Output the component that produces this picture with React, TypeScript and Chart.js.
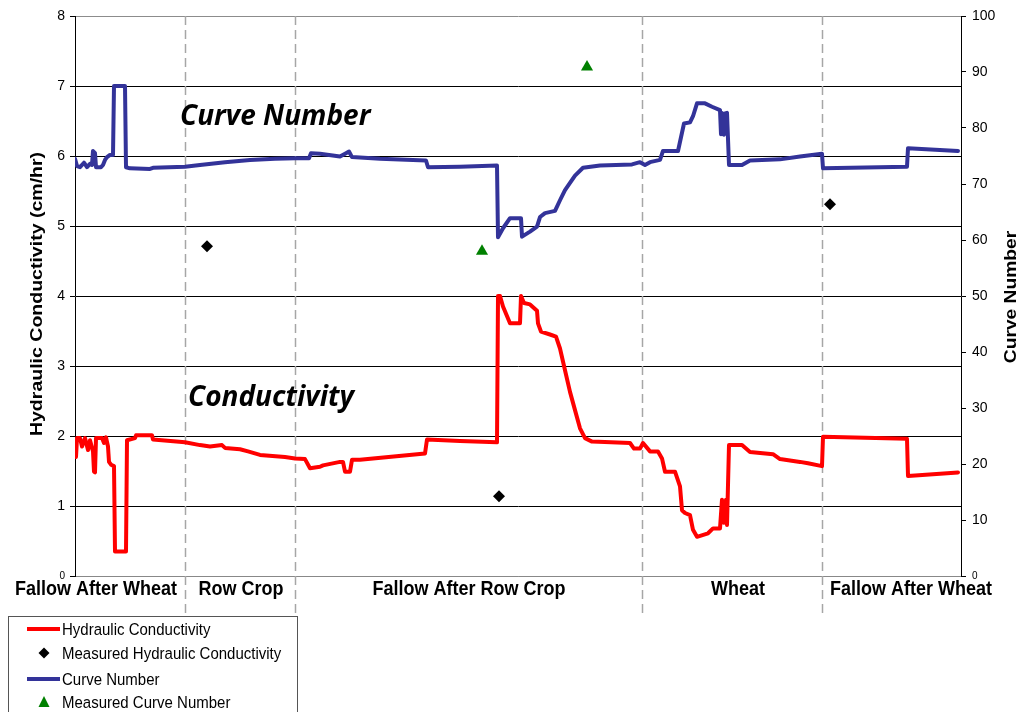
import { useEffect, useRef } from 'react';
import { Chart, registerables } from 'chart.js';

Chart.register(...registerables);

// ---- Data (x = time step index along the crop sequence) ----
const periodLabels = ['Fallow After Wheat', 'Row Crop', 'Fallow After Row Crop', 'Wheat', 'Fallow After Wheat'];
const periodBoundaries = [110, 220, 567, 747];

const cnTime = [0, 2, 5, 9, 12, 15, 17, 18, 20, 21, 26, 28, 30, 32, 35, 38, 39, 50, 51, 55, 75, 78, 110, 125, 150, 175, 200, 220, 234, 236, 245, 265, 271, 274, 277, 305, 351, 353, 385, 422, 423, 428, 435, 446, 447, 455, 462, 465, 470, 480, 485, 490, 500, 508, 525, 557, 565, 570, 575, 585, 588, 603, 609, 615, 618, 622, 630, 637, 645, 646, 647, 649, 650, 652, 654, 667, 675, 705, 725, 747, 748, 832, 833, 883];
const cnValues = [74.5, 73.2, 73.0, 73.8, 73.0, 73.6, 73.4, 75.9, 75.5, 73.0, 73.0, 73.4, 74.3, 74.8, 75.2, 75.2, 87.5, 87.5, 73.0, 72.8, 72.7, 72.9, 73.1, 73.4, 73.9, 74.3, 74.5, 74.6, 74.6, 75.5, 75.4, 74.9, 75.5, 75.8, 74.8, 74.5, 74.2, 73.0, 73.1, 73.3, 60.5, 62.1, 63.9, 63.9, 60.6, 61.5, 62.4, 64.1, 64.8, 65.2, 67.1, 68.9, 71.5, 72.9, 73.3, 73.5, 73.9, 73.4, 73.9, 74.3, 75.9, 75.9, 80.8, 81.0, 82.1, 84.4, 84.4, 83.8, 83.2, 78.9, 82.7, 78.8, 82.6, 82.7, 73.4, 73.4, 74.2, 74.4, 74.9, 75.4, 72.8, 73.1, 76.4, 75.9];

const kTime = [0, 1, 2, 5, 7, 10, 13, 15, 18, 19, 20, 21, 27, 29, 31, 33, 34, 36, 39, 40, 51, 52, 60, 61, 77, 78, 110, 125, 135, 147, 150, 165, 173, 185, 210, 220, 230, 235, 245, 248, 265, 268, 270, 275, 277, 285, 350, 352, 385, 422, 423, 425, 428, 435, 445, 446, 449, 455, 462, 463, 466, 475, 481, 485, 490, 495, 500, 505, 510, 517, 555, 559, 565, 568, 575, 583, 587, 590, 600, 605, 607, 610, 615, 618, 622, 633, 638, 645, 647, 649, 651, 652, 654, 667, 675, 698, 705, 725, 733, 747, 748, 832, 833, 883];
const kValues = [1.77, 1.70, 1.97, 1.97, 1.85, 1.97, 1.80, 1.94, 1.78, 1.49, 1.48, 1.97, 1.97, 1.90, 1.98, 1.85, 1.63, 1.59, 1.57, 0.35, 0.35, 1.94, 1.97, 2.01, 2.01, 1.95, 1.91, 1.87, 1.85, 1.87, 1.83, 1.81, 1.78, 1.73, 1.70, 1.68, 1.67, 1.54, 1.56, 1.58, 1.63, 1.63, 1.49, 1.49, 1.66, 1.66, 1.75, 1.95, 1.93, 1.91, 4.00, 4.00, 3.85, 3.61, 3.61, 4.00, 3.90, 3.88, 3.79, 3.61, 3.49, 3.45, 3.42, 3.25, 2.94, 2.63, 2.37, 2.11, 1.97, 1.92, 1.90, 1.82, 1.82, 1.90, 1.78, 1.78, 1.68, 1.49, 1.49, 1.28, 0.94, 0.90, 0.87, 0.66, 0.56, 0.61, 0.68, 0.68, 1.09, 0.76, 1.09, 0.73, 1.87, 1.87, 1.77, 1.74, 1.67, 1.63, 1.61, 1.57, 1.99, 1.96, 1.43, 1.48];

const measuredKTime = [132, 424, 755];
const measuredKValues = [4.71, 1.14, 5.31];
const measuredCNTime = [407, 512];
const measuredCNValues = [58.0, 90.9];

const leftTicks = { min: 0, max: 8, step: 1 };
const rightTicks = { min: 0, max: 100, step: 10 };

const FONT = '"Liberation Sans", Arial, sans-serif';
const RED = '#FF0000';
const BLUE = '#333399';
const GREEN = '#008000';

const toXY = (xs: number[], ys: number[]) => xs.map((x, i) => ({ x, y: ys[i] }));

// draw text stretched along the vertical of the page (the reference is slightly stretched vertically)
function stretchedText(ctx: CanvasRenderingContext2D, text: string, x: number, y: number, font: string, align: CanvasTextAlign, stretch: number, rotate = false) {
  ctx.save();
  ctx.translate(x, y);
  if (rotate) {
    ctx.rotate(-Math.PI / 2);
    ctx.scale(stretch, 1);
  } else {
    ctx.scale(1, stretch);
  }
  ctx.font = font;
  ctx.textAlign = align;
  ctx.textBaseline = 'middle';
  ctx.fillText(text, 0, 0);
  ctx.restore();
}

const overlayPlugin = {
  id: 'overlay',
  beforeDatasetsDraw(chart: any) {
    const { ctx, scales } = chart;
    const xs = scales.x;
    const top = chart.chartArea.top;
    ctx.save();
    ctx.strokeStyle = '#a6a6a6';
    ctx.lineWidth = 1.5;
    ctx.setLineDash([9, 5]);
    periodBoundaries.forEach((b) => {
      const px = Math.round(xs.getPixelForValue(b)) + 0.5;
      ctx.beginPath();
      ctx.moveTo(px, top);
      ctx.lineTo(px, 613);
      ctx.stroke();
    });
    ctx.restore();
  },
  afterDraw(chart: any) {
    const { ctx } = chart;
    ctx.save();
    ctx.fillStyle = '#000';
    // period labels
    const labelCenters = [96, 241, 469, 738, 911];
    periodLabels.forEach((l, i) => stretchedText(ctx, l, labelCenters[i], 589, `bold 18px ${FONT}`, 'center', 1.15));

    // axis titles
    stretchedText(ctx, 'Hydraulic Conductivity (cm/hr)', 38, 294, `bold 16px ${FONT}`, 'center', 1.22, true);
    stretchedText(ctx, 'Curve Number', 1012, 297, `bold 16px ${FONT}`, 'center', 1.2, true);

    // in-plot annotations
    stretchedText(ctx, 'Curve Number', 180, 117, `italic bold 28px "Open Sans", ${FONT}`, 'left', 1.05);
    stretchedText(ctx, 'Conductivity', 188, 398, `italic bold 28px "Open Sans", ${FONT}`, 'left', 1.05);

    // legend
    ctx.strokeStyle = '#555';
    ctx.lineWidth = 1;
    ctx.strokeRect(8.5, 616.5, 289, 110);
    const rows = [629, 653, 679, 702];
    const names = ['Hydraulic Conductivity', 'Measured Hydraulic Conductivity', 'Curve Number', 'Measured Curve Number'];
    ctx.lineWidth = 4;
    ctx.strokeStyle = RED;
    ctx.beginPath(); ctx.moveTo(27, rows[0]); ctx.lineTo(60, rows[0]); ctx.stroke();
    ctx.strokeStyle = BLUE;
    ctx.beginPath(); ctx.moveTo(27, rows[2]); ctx.lineTo(60, rows[2]); ctx.stroke();
    ctx.fillStyle = '#000';
    ctx.beginPath();
    ctx.moveTo(44, rows[1] - 5.5); ctx.lineTo(49.5, rows[1]); ctx.lineTo(44, rows[1] + 5.5); ctx.lineTo(38.5, rows[1]);
    ctx.closePath(); ctx.fill();
    ctx.fillStyle = GREEN;
    ctx.beginPath();
    ctx.moveTo(44, rows[3] - 6); ctx.lineTo(49.5, rows[3] + 5); ctx.lineTo(38.5, rows[3] + 5);
    ctx.closePath(); ctx.fill();
    ctx.fillStyle = '#000';
    names.forEach((n, i) => stretchedText(ctx, n, 62, rows[i] + 1, `15px ${FONT}`, 'left', 1.1));
    ctx.restore();
  },
};

export default function App() {
  const ref = useRef<HTMLCanvasElement | null>(null);
  useEffect(() => {
    document.body.style.margin = '0';
    if (!ref.current) return;
    const chart = new Chart(ref.current, {
      type: 'line',
      data: {
        datasets: [
          {
            label: 'Hydraulic Conductivity',
            data: toXY(kTime, kValues),
            yAxisID: 'y',
            borderColor: RED,
            backgroundColor: RED,
            borderWidth: 4,
            pointRadius: 0,
            tension: 0,
            borderJoinStyle: 'round',
            borderCapStyle: 'round',
          },
          {
            label: 'Measured Hydraulic Conductivity',
            data: toXY(measuredKTime, measuredKValues),
            yAxisID: 'y',
            showLine: false,
            pointStyle: 'rectRot',
            pointRadius: 6,
            borderWidth: 0,
            backgroundColor: '#000',
            borderColor: '#000',
          },
          {
            label: 'Curve Number',
            data: toXY(cnTime, cnValues),
            yAxisID: 'y1',
            borderColor: BLUE,
            backgroundColor: BLUE,
            borderWidth: 4,
            pointRadius: 0,
            tension: 0,
            borderJoinStyle: 'round',
            borderCapStyle: 'round',
          },
          {
            label: 'Measured Curve Number',
            data: toXY(measuredCNTime, measuredCNValues),
            yAxisID: 'y1',
            showLine: false,
            pointStyle: 'triangle',
            pointRadius: 7,
            borderWidth: 0,
            backgroundColor: GREEN,
            borderColor: GREEN,
          },
        ],
      },
      options: {
        responsive: false,
        animation: false,
        layout: { padding: { top: 16, left: 0, right: 0, bottom: 0 } },
        plugins: { legend: { display: false }, tooltip: { enabled: false } },
        scales: {
          x: {
            type: 'linear',
            min: 0,
            max: 886,
            ticks: { display: false },
            grid: { display: false, drawTicks: false },
            border: { display: true, color: '#888', width: 1 },
            afterFit: (s: any) => { s.height = 136; },
          },
          y: {
            position: 'left',
            min: leftTicks.min,
            max: leftTicks.max,
            ticks: {
              stepSize: leftTicks.step,
              color: '#000',
              padding: 5,
              font: (c: any) => ({ family: FONT, size: c.tick && c.tick.value === 0 ? 10 : 14 }),
            },
            grid: {
              color: (c: any) => (c.tick && (c.tick.value === 8 || c.tick.value === 0) ? '#8c8c8c' : '#000'),
              tickColor: '#000',
              tickLength: 5,
              lineWidth: 1,
            },
            border: { display: true, color: '#000', width: 1 },
            afterFit: (s: any) => { s.width = 75; },
          },
          y1: {
            position: 'right',
            min: rightTicks.min,
            max: rightTicks.max,
            ticks: {
              stepSize: rightTicks.step,
              color: '#000',
              padding: 6,
              font: (c: any) => ({ family: FONT, size: c.tick && c.tick.value === 0 ? 10 : 14 }),
            },
            grid: { drawOnChartArea: false, tickColor: '#000', tickLength: 5 },
            border: { display: true, color: '#000', width: 1 },
            afterFit: (s: any) => { s.width = 60; },
          },
        },
      },
      plugins: [overlayPlugin],
    });
    return () => chart.destroy();
  }, []);
  return <canvas ref={ref} width={1021} height={712} style={{ display: 'block' }} />;
}
